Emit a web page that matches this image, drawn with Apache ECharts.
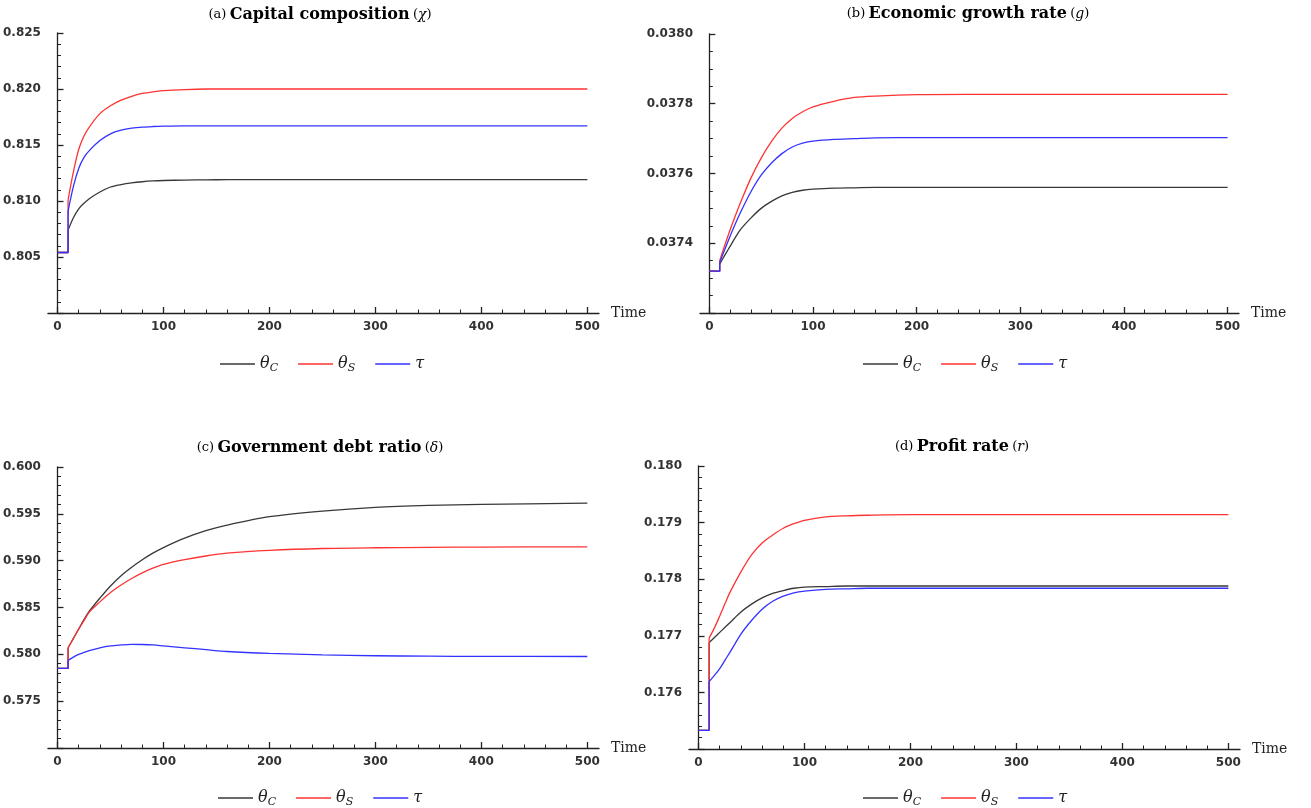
<!DOCTYPE html>
<html>
<head>
    <meta charset="utf-8">
    <title>Transition paths</title>
    <script src="https://cdn.jsdelivr.net/npm/echarts@6/dist/echarts.min.js"></script>
    <style>
        body { margin: 0; background: #fff; }
    </style>
</head>
<body>
    <div id="main" style="width: 1311px;height:808px;"></div>
    <script type="text/javascript">
        // time points (shock at t = 10, hence the repeated 10)
        var T = [0, 10, 10, 15, 20, 25, 30, 40, 50, 60, 70, 80, 90, 100, 120, 140, 160, 200, 250, 300, 350, 400, 500];
        var xTicks = [0, 100, 200, 300, 400, 500];
        var names = ['θC', 'θS', 'τ'];

        // (a) capital composition
        var capBlack = [0.8054, 0.8054, 0.8074, 0.8085, 0.8093, 0.8098, 0.8102, 0.8108, 0.81125, 0.81147, 0.81162, 0.81172, 0.81179, 0.81183, 0.81187, 0.81189, 0.8119, 0.8119, 0.8119, 0.8119, 0.8119, 0.8119, 0.8119];
        var capRed = [0.8054, 0.8054, 0.8101, 0.8126, 0.8146, 0.8158, 0.8166, 0.8178, 0.8185, 0.8190, 0.81935, 0.8196, 0.81975, 0.81985, 0.81995, 0.8200, 0.8200, 0.8200, 0.8200, 0.8200, 0.8200, 0.8200, 0.8200];
        var capBlue = [0.8054, 0.8054, 0.8091, 0.8113, 0.8129, 0.8139, 0.8145, 0.8154, 0.8160, 0.81632, 0.8165, 0.8166, 0.81665, 0.81668, 0.8167, 0.8167, 0.8167, 0.8167, 0.8167, 0.8167, 0.8167, 0.8167, 0.8167];

        // (b) economic growth rate
        var grBlack = [0.03732, 0.03732, 0.03734, 0.037366, 0.037391, 0.037416, 0.037439, 0.037472, 0.037500, 0.037520, 0.037536, 0.037546, 0.037552, 0.037555, 0.037558, 0.037559, 0.03756, 0.03756, 0.03756, 0.03756, 0.03756, 0.03756, 0.03756];
        var grRed = [0.03732, 0.03732, 0.037350, 0.037395, 0.037438, 0.037478, 0.037516, 0.037586, 0.037644, 0.037692, 0.037730, 0.037758, 0.037777, 0.037791, 0.037807, 0.037818, 0.037822, 0.037826, 0.037827, 0.037827, 0.037827, 0.037827, 0.037827];
        var grBlue = [0.03732, 0.03732, 0.037345, 0.037383, 0.037420, 0.037455, 0.037488, 0.037547, 0.037595, 0.037630, 0.037657, 0.037676, 0.037687, 0.037693, 0.037698, 0.037700, 0.037702, 0.037703, 0.037703, 0.037703, 0.037703, 0.037703, 0.037703];

        // (c) government debt ratio
        var debtBlack = [0.5785, 0.5785, 0.5807, 0.5817, 0.5827, 0.5837, 0.5846, 0.5860, 0.5873, 0.5884, 0.5893, 0.5901, 0.5908, 0.5914, 0.5924, 0.5932, 0.5938, 0.5947, 0.5953, 0.5957, 0.5959, 0.5960, 0.59615];
        var debtRed = [0.5785, 0.5785, 0.5807, 0.5817, 0.5827, 0.5836, 0.5845, 0.5856, 0.5866, 0.5874, 0.5881, 0.5887, 0.5892, 0.5896, 0.5901, 0.5905, 0.5908, 0.5911, 0.5913, 0.59138, 0.59142, 0.59145, 0.59148];
        var debtBlue = [0.5785, 0.5785, 0.57935, 0.5797, 0.5800, 0.5802, 0.5804, 0.5807, 0.5809, 0.5810, 0.58107, 0.58105, 0.58100, 0.5809, 0.5807, 0.5805, 0.5803, 0.5801, 0.57995, 0.57985, 0.5798, 0.57978, 0.57977];

        // (d) profit rate
        var prBlack = [0.17533, 0.17533, 0.17688, 0.17697, 0.17706, 0.17715, 0.17724, 0.17742, 0.17756, 0.17767, 0.17775, 0.17780, 0.17784, 0.17786, 0.17787, 0.17788, 0.17788, 0.17788, 0.17788, 0.17788, 0.17788, 0.17788, 0.17788];
        var prRed = [0.17533, 0.17533, 0.17696, 0.17714, 0.17735, 0.17757, 0.17778, 0.17813, 0.17843, 0.17864, 0.17878, 0.17890, 0.17898, 0.17904, 0.17910, 0.17912, 0.17913, 0.17914, 0.17914, 0.17914, 0.17914, 0.17914, 0.17914];
        var prBlue = [0.17533, 0.17533, 0.17619, 0.17630, 0.17642, 0.17657, 0.17672, 0.17703, 0.17727, 0.17747, 0.17761, 0.17770, 0.17776, 0.17779, 0.17782, 0.17783, 0.17784, 0.17784, 0.17784, 0.17784, 0.17784, 0.17784, 0.17784];

        var colors = ['#383838', '#ff3333', '#3333ff'];
        var ink = '#222';

        var panels = [
            { grid: { left: 45, top: 33, width: 554, height: 280 }, y: [0.800, 0.825, 0.005, 5, 3], data: [capBlack, capRed, capBlue],
              title: ['(a)', 'Capital composition', 'χ'], tx: 320, ty: 15, legend: { left: 215, top: 351 } },
            { grid: { left: 700, top: 34, width: 539, height: 279 }, y: [0.0372, 0.0380, 0.0002, 4, 4], data: [grBlack, grRed, grBlue],
              title: ['(b)', 'Economic growth rate', 'g'], tx: 968, ty: 14, legend: { left: 858, top: 351 } },
            { grid: { left: 45, top: 467, width: 554, height: 281 }, y: [0.570, 0.600, 0.005, 5, 3], data: [debtBlack, debtRed, debtBlue],
              title: ['(c)', 'Government debt ratio', 'δ'], tx: 320, ty: 448, legend: { left: 213, top: 785 } },
            { grid: { left: 689, top: 466, width: 551, height: 283 }, y: [0.175, 0.180, 0.001, 5, 3], data: [prBlack, prRed, prBlue],
              title: ['(d)', 'Profit rate', 'r'], tx: 962, ty: 447, legend: { left: 858, top: 785 } }
        ];

        var minorX = [];
        for (var v = 20; v < 500; v += 20) { if (v % 100) minorX.push(v); }

        var labelFont = { fontFamily: 'DejaVu Sans', fontSize: 12, fontWeight: 'bold', color: '#333' };
        var lineStyle = { color: ink, width: 1.3 };

        var option = { animation: false, grid: [], xAxis: [], yAxis: [], series: [], legend: [], graphic: [] };

        panels.forEach(function (p, i) {
            option.grid.push(p.grid);
            option.yAxis.push({
                type: 'value', gridIndex: i, min: p.y[0], max: p.y[1], interval: p.y[2],
                axisLine: { onZero: true, lineStyle: lineStyle },
                axisTick: { inside: true, length: 6, lineStyle: lineStyle },
                minorTick: { show: true, splitNumber: p.y[3], length: 3.5, lineStyle: { color: ink, width: 1 } },
                axisLabel: Object.assign({ showMinLabel: false, margin: 7, formatter: function (val) { return val.toFixed(p.y[4]); } }, labelFont),
                splitLine: { show: false }
            });
        });
        panels.forEach(function (p, i) {
            option.xAxis.push({
                type: 'value', gridIndex: i, min: -9, max: 511,
                axisLine: { lineStyle: lineStyle },
                axisTick: { inside: true, length: 6, customValues: xTicks, lineStyle: lineStyle },
                axisLabel: Object.assign({ customValues: xTicks, margin: 8 }, labelFont),
                splitLine: { show: false },
                name: 'Time', nameLocation: 'end', nameGap: 12,
                nameTextStyle: { fontFamily: 'DejaVu Serif', fontSize: 14, color: ink }
            });
        });
        // minor x ticks
        panels.forEach(function (p, i) {
            option.xAxis.push({
                type: 'value', gridIndex: i, min: -9, max: 511, position: 'bottom',
                axisLine: { show: false },
                axisTick: { inside: true, length: 3.5, customValues: minorX, lineStyle: { color: ink, width: 1 } },
                axisLabel: { show: false },
                splitLine: { show: false }
            });
        });

        panels.forEach(function (p, i) {
            p.data.forEach(function (arr, k) {
                var pts = T.map(function (t, j) { return [t, arr[j]]; });
                // pre-shock level and jump: straight
                option.series.push({
                    name: names[k], type: 'line', xAxisIndex: i, yAxisIndex: i,
                    showSymbol: false, symbol: 'none',
                    data: pts.slice(0, 3),
                    lineStyle: { color: colors[k], width: 1.3 },
                    itemStyle: { color: colors[k] },
                    z: 2 + k
                });
                // adjustment path: smoothed
                option.series.push({
                    name: names[k], type: 'line', xAxisIndex: i, yAxisIndex: i,
                    showSymbol: false, symbol: 'none', smooth: 0.3,
                    data: pts.slice(2),
                    lineStyle: { color: colors[k], width: 1.3 },
                    itemStyle: { color: colors[k] },
                    z: 2 + k
                });
            });

            option.legend.push({
                data: names, left: p.legend.left, top: p.legend.top,
                icon: 'rect', itemWidth: 35, itemHeight: 1.5, itemGap: 20,
                selectedMode: false,
                formatter: function (name) {
                    if (name === 'τ') return '{g|τ}';
                    return '{g|θ}{s|' + name.slice(1) + '}';
                },
                textStyle: {
                    rich: {
                        g: { fontFamily: 'DejaVu Serif', fontStyle: 'italic', fontSize: 16, color: ink },
                        s: { fontFamily: 'DejaVu Serif', fontStyle: 'italic', fontSize: 11, color: ink, padding: [8, 0, 0, 0] }
                    }
                }
            });

            option.graphic.push({
                type: 'text', x: p.tx, y: p.ty,
                style: {
                    text: '{p|' + p.title[0] + '} {b|' + p.title[1] + '} {p|(}{i|' + p.title[2] + '}{p|)}',
                    align: 'center', verticalAlign: 'middle',
                    rich: {
                        p: { fontFamily: 'DejaVu Serif', fontSize: 13, color: '#444' },
                        b: { fontFamily: 'DejaVu Serif', fontSize: 16, fontWeight: 'bold', color: ink },
                        i: { fontFamily: 'DejaVu Serif', fontStyle: 'italic', fontSize: 14, color: '#444' }
                    }
                }
            });
        });

        var chart = echarts.init(document.getElementById('main'));
        chart.setOption(option);
    </script>
</body>
</html>
